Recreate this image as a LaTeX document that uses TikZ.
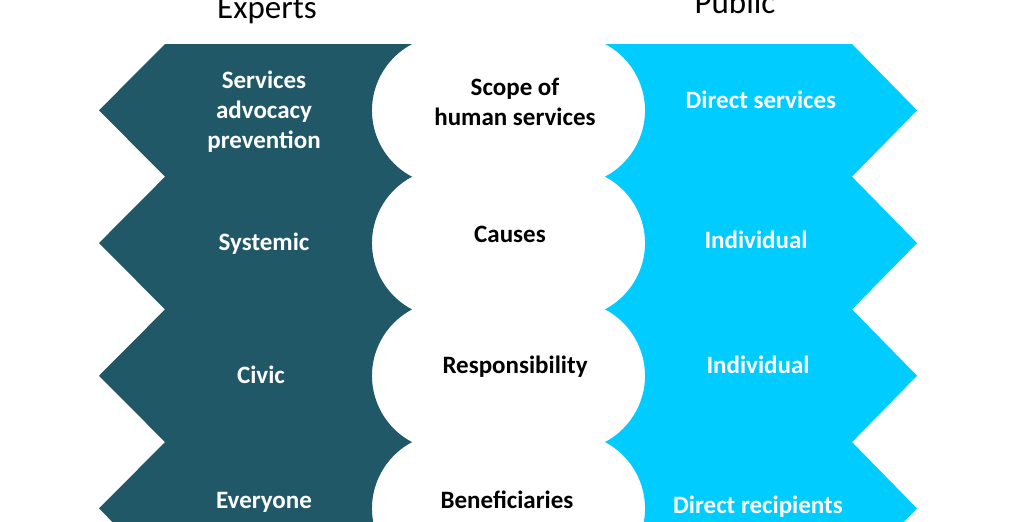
\documentclass[tikz,border=0pt]{standalone}
\usepackage{fontspec}
\setmainfont{Carlito}
\definecolor{darkteal}{HTML}{215867}
\definecolor{brightcyan}{HTML}{00CCFF}
\begin{document}
\begin{tikzpicture}[x=1pt,y=1pt,
  lbl/.style={font=\fontsize{25}{30}\selectfont\bfseries, inner sep=0pt, align=center, anchor=base},
  wlbl/.style={lbl, text=white},
  blbl/.style={lbl, text=black},
  ttl/.style={font=\fontsize{33}{38}\selectfont, inner sep=0pt, anchor=base, text=black}]
\useasboundingbox (0,0) rectangle (1023,-522);
\clip (0,0) rectangle (1023,-522);
\fill[white] (0,0) rectangle (1023,-522);
% left shape
\fill[darkteal] (165,-44) -- (99,-110.35) -- (165,-176.7) -- (99,-243.05) -- (165,-309.4)
  -- (99,-375.75) -- (165,-442.1) -- (99,-508.45) -- (165,-574.8) -- (412,-574.8)
  arc[start angle=242.2, end angle=117.8, radius=75]
  arc[start angle=242.2, end angle=117.8, radius=75]
  arc[start angle=242.2, end angle=117.8, radius=75]
  arc[start angle=242.2, end angle=117.8, radius=75]
  -- cycle;
% right shape
\fill[brightcyan] (605,-44)
  arc[start angle=62.2, end angle=-62.2, radius=75]
  arc[start angle=62.2, end angle=-62.2, radius=75]
  arc[start angle=62.2, end angle=-62.2, radius=75]
  arc[start angle=62.2, end angle=-62.2, radius=75]
  -- (852,-574.8) -- (917,-508.45) -- (852,-442.1) -- (917,-375.75) -- (852,-309.4)
  -- (917,-243.05) -- (852,-176.7) -- (917,-110.35) -- (852,-44) -- cycle;
% titles
\node[ttl] (experts) at (267,-18) {Experts};
\node[ttl] (public) at (735,-13) {Public};
% left labels
\node[wlbl] (l1) at (264,-148) {Services\\advocacy\\prevention};
\node[wlbl] (l2) at (264,-250) {Systemic};
\node[wlbl] (l3) at (261,-383) {Civic};
\node[wlbl] (l4) at (264,-508) {Everyone};
% middle labels
\node[blbl] (m1) at (515,-125) {Scope of\\human services};
\node[blbl] (m2) at (510,-242) {Causes};
\node[blbl] (m3) at (515,-373) {Responsibility};
\node[blbl] (m4) at (507,-508) {Beneficiaries};
% right labels
\node[wlbl] (r1) at (761,-108) {Direct services};
\node[wlbl] (r2) at (756,-248) {Individual};
\node[wlbl] (r3) at (758,-373) {Individual};
\node[wlbl] (r4) at (758,-513) {Direct recipients};
\end{tikzpicture}
\end{document}
